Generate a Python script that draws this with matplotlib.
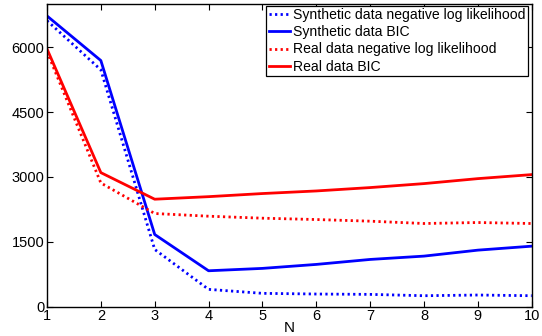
import matplotlib
matplotlib.use("Agg")
import matplotlib.pyplot as plt

plt.rcParams['font.family'] = ['Liberation Sans', 'DejaVu Sans']

N = [1, 2, 3, 4, 5, 6, 7, 8, 9, 10]
syn_nll = [6616, 5478, 1324, 401, 309, 293, 285, 254, 270, 254]
syn_bic = [6725, 5693, 1670, 831, 886, 978, 1093, 1170, 1308, 1400]
real_nll = [5900, 2862, 2155, 2093, 2047, 2016, 1978, 1924, 1947, 1924]
real_bic = [5963, 3101, 2486, 2545, 2617, 2677, 2755, 2847, 2962, 3055]
labels = ["Synthetic data negative log likelihood", "Synthetic data BIC",
          "Real data negative log likelihood", "Real data BIC"]
yticks = [0, 1500, 3000, 4500, 6000]

fig = plt.figure(figsize=(5.42, 3.36), dpi=100)
ax = fig.add_axes([0.0867, 0.0872, 0.8943, 0.9008])
dot = (0, (0.8, 1.2))
ax.plot(N, syn_nll, color='#0000ff', lw=2, linestyle=dot, label=labels[0])
ax.plot(N, syn_bic, color='#0000ff', lw=2, label=labels[1])
ax.plot(N, real_nll, color='#ff0000', lw=2, linestyle=dot, label=labels[2])
ax.plot(N, real_bic, color='#ff0000', lw=2, label=labels[3])

ax.set_xlim(1, 10)
ax.set_ylim(0, 7000)
ax.set_xticks(N)
ax.set_yticks(yticks)
ax.tick_params(direction='in', top=True, right=True, labelsize=10.5, length=4, width=0.8, pad=2)
for s in ax.spines.values():
    s.set_linewidth(1.0)
ax.set_xlabel('N', fontsize=11, labelpad=-2)

leg = ax.legend(loc='upper right', bbox_to_anchor=(528 / 542, 1 - 5.5 / 336),
                bbox_transform=fig.transFigure, fontsize=10.1, frameon=True,
                fancybox=False, edgecolor='black', borderaxespad=0, handlelength=1.5,
                handletextpad=0.2, labelspacing=0.22, borderpad=0.2)
leg.get_frame().set_linewidth(0.9)
leg.get_frame().set_alpha(1)

fig.savefig('out.png', dpi=100)
